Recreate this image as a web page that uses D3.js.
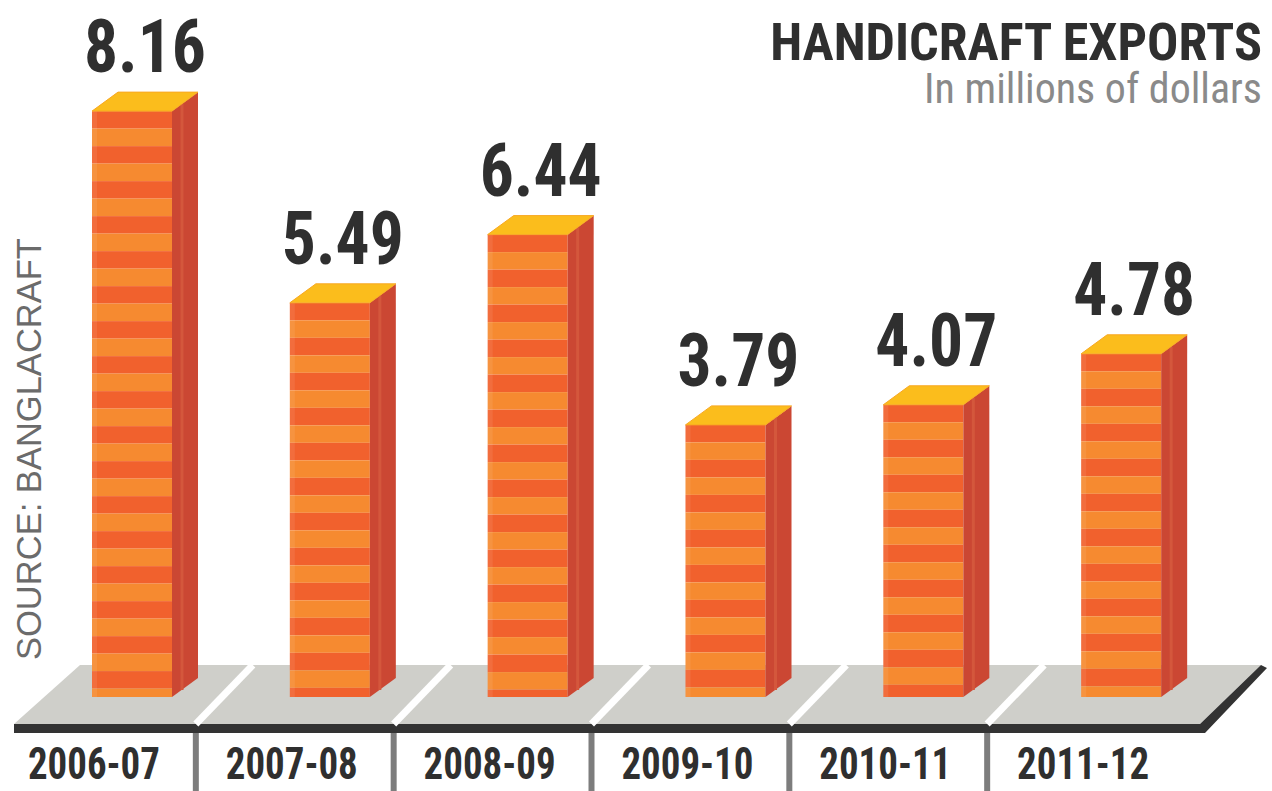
<!DOCTYPE html>
<html><head><meta charset="utf-8">
<script src="https://cdn.jsdelivr.net/npm/d3@7"></script>
<style>body{margin:0;background:#fff}svg{display:block}</style>
</head><body><svg id="c" width="1272" height="791"></svg>
<script>
const categories = ["2006-07","2007-08","2008-09","2009-10","2010-11","2011-12"];
const values = [8.16, 5.49, 6.44, 3.79, 4.07, 4.78];
const valueLabels = ["8.16","5.49","6.44","3.79","4.07","4.78"];
const title = "HANDICRAFT EXPORTS";
const subtitle = "In millions of dollars";
const source = "SOURCE:  BANGLACRAFT";

const svg = d3.select("#c");
const condensed = "'Liberation Sans Narrow','Roboto Condensed','DejaVu Sans Condensed','Arial Narrow',sans-serif";
const base = 697;
const x = d3.scaleBand().domain(categories).range([-3, 1184]).padding(0);
const y = d3.scaleLinear().domain([0, 9]).range([base, base - 9 * 71.8]);
const barOff = 95, barW = 80, dx = 26, dy = 19, stripe = 17.5;

// fit a text to a target width by adjusting its font size
function fitWidth(sel, size, target) {
  sel.attr("font-size", size);
  const w = sel.node().getComputedTextLength();
  if (w > 0) sel.attr("font-size", size * target / w);
  return sel;
}

svg.append("rect").attr("width", 1272).attr("height", 791).attr("fill", "#fff");

// platform
const pTop = 665, pBot = 724, pStrip = 733;
svg.append("polygon")
  .attr("points", [[80, pTop], [1261, pTop], [1200, pBot], [14, pBot]].join(" "))
  .attr("fill", "#cfcfca");
svg.append("polygon")
  .attr("points", [[14, pBot], [1200, pBot], [1261, pTop], [1267, pTop + 3], [1205, pStrip], [14, pStrip]].join(" "))
  .attr("fill", "#333333");

const bounds = categories.slice(1).map(c => x(c));
svg.selectAll("line.slant").data(bounds).join("line")
  .attr("x1", d => d + 1).attr("y1", pBot)
  .attr("x2", d => d + 58).attr("y2", pTop)
  .attr("stroke", "#fff").attr("stroke-width", 7);
svg.selectAll("line.sep").data(bounds).join("line")
  .attr("x1", d => d + 1).attr("x2", d => d + 1)
  .attr("y1", pStrip).attr("y2", 791)
  .attr("stroke", "#7d7d7d").attr("stroke-width", 6);

// bars
const bars = svg.selectAll("g.bar").data(categories.map((c, i) => ({c, v: values[i], lab: valueLabels[i]})))
  .join("g").attr("class", "bar");

bars.each(function(d) {
  const g = d3.select(this);
  const x0 = x(d.c) + barOff, yt = y(d.v);
  const n = Math.ceil((base - yt) / stripe);
  g.selectAll("rect.s").data(d3.range(n)).join("rect")
    .attr("x", x0).attr("width", barW)
    .attr("y", i => yt + i * stripe)
    .attr("height", i => Math.min(stripe, base - (yt + i * stripe)))
    .attr("fill", i => i % 2 === 0 ? "#f1612d" : "#f68a30");
  g.append("rect").attr("x", x0).attr("y", yt).attr("width", 5).attr("height", base - yt)
    .attr("fill", "#fff").attr("opacity", 0.08);
  g.append("polygon")
    .attr("points", [[x0 + barW, yt], [x0 + barW + dx, yt - dy], [x0 + barW + dx, base - dy], [x0 + barW, base]].join(" "))
    .attr("fill", "#cb4733");
  g.append("line")
    .attr("x1", x0 + barW + 10).attr("y1", yt - 7).attr("x2", x0 + barW + 10).attr("y2", base - 7)
    .attr("stroke", "#d4573c").attr("stroke-width", 3);
  g.append("polygon")
    .attr("points", [[x0, yt], [x0 + dx, yt - dy], [x0 + barW + dx, yt - dy], [x0 + barW, yt]].join(" "))
    .attr("fill", "#fbbd1c").attr("stroke", "#f8a823").attr("stroke-width", 1);
  g.append("text")
    .attr("x", x0 + (barW + dx) / 2).attr("y", yt - dy - 20)
    .attr("text-anchor", "middle")
    .attr("font-family", condensed).attr("font-weight", "bold").attr("font-size", 74)
    .attr("textLength", 122).attr("lengthAdjust", "spacingAndGlyphs")
    .attr("fill", "#2f2f2f").text(d.lab);
});

// category labels
svg.selectAll("text.cat").data(categories).join("text")
  .attr("class", "cat")
  .attr("x", d => x(d) + x.bandwidth() / 2 - 2).attr("y", 779)
  .attr("text-anchor", "middle")
  .attr("font-family", condensed).attr("font-weight", "bold").attr("font-size", 45)
  .attr("textLength", 132).attr("lengthAdjust", "spacingAndGlyphs")
  .attr("fill", "#2f2f2f").text(d => d);

// titles
const t1 = svg.append("text").attr("x", 1262).attr("y", 60).attr("text-anchor", "end")
  .attr("font-family", condensed).attr("font-weight", "bold")
  .attr("fill", "#2f2f2f").text(title);
fitWidth(t1, 55, 492);
const t2 = svg.append("text").attr("x", 1262).attr("y", 103).attr("text-anchor", "end")
  .attr("font-family", condensed)
  .attr("fill", "#8a8a8a").text(subtitle);
fitWidth(t2, 44, 338);

const s = svg.append("text").attr("transform", "translate(41,660) rotate(-90)")
  .attr("font-family", "'Liberation Sans',Arial,sans-serif")
  .attr("fill", "#6b6b6b").text(source);
fitWidth(s, 34, 422);
</script></body></html>
